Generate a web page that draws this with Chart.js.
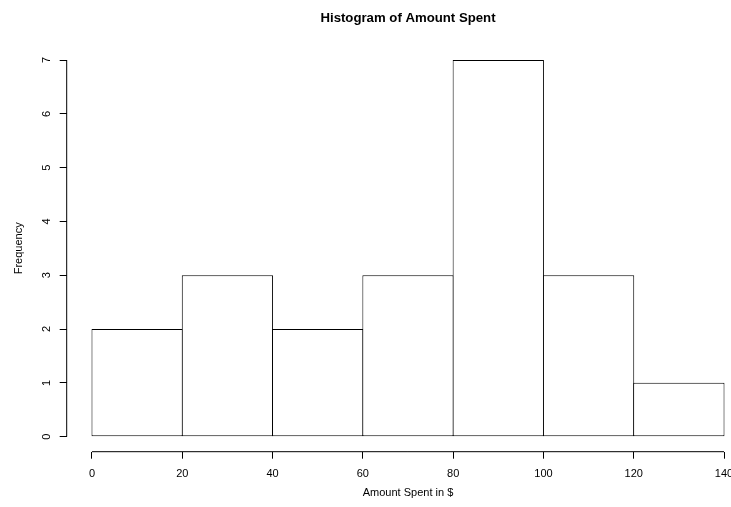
<!DOCTYPE html>
<html>
<head>
<meta charset="utf-8">
<script src="https://cdn.jsdelivr.net/npm/chart.js@4/dist/chart.umd.min.js"></script>
<style>
  html, body { margin: 0; padding: 0; background: #ffffff; overflow: hidden; }
  #wrap { width: 731px; height: 507px; overflow: hidden; }
  canvas { display: block; }
</style>
</head>
<body>
<div id="wrap"><canvas id="c" width="760" height="507"></canvas></div>
<script>
// Histogram data
const breaks = [0, 20, 40, 60, 80, 100, 120, 140];
const counts = [2, 3, 2, 3, 7, 3, 1];
const xTicks = [0, 20, 40, 60, 80, 100, 120, 140];
const yTicks = [0, 1, 2, 3, 4, 5, 6, 7];
const titleText = 'Histogram of Amount Spent';
const xTitle = 'Amount Spent in $';
const yTitle = 'Frequency';

const barData = counts.map((c, i) => ({ x: (breaks[i] + breaks[i + 1]) / 2, y: c }));

// R-style 4% axis extension
const xLo = breaks[0], xHi = breaks[breaks.length - 1];
const yHi = Math.max(...counts);
const xPad = (xHi - xLo) * 0.04, yPad = yHi * 0.04;

const FONT = '"Liberation Sans", Arial, Helvetica, sans-serif';

const rAxes = {
  id: 'rAxes',
  afterDraw(chart) {
    const ctx = chart.ctx;
    const xs = chart.scales.x, ys = chart.scales.y;
    const ca = chart.chartArea;
    ctx.save();
    ctx.strokeStyle = '#000';
    ctx.lineWidth = 1;
    ctx.beginPath();
    ctx.moveTo(xs.getPixelForValue(xTicks[0]), ca.bottom);
    ctx.lineTo(xs.getPixelForValue(xTicks[xTicks.length - 1]), ca.bottom);
    ctx.moveTo(ca.left, ys.getPixelForValue(yTicks[0]));
    ctx.lineTo(ca.left, ys.getPixelForValue(yTicks[yTicks.length - 1]));
    ctx.stroke();
    ctx.restore();
  }
};

new Chart(document.getElementById('c'), {
  type: 'bar',
  data: {
    datasets: [{
      data: barData,
      backgroundColor: '#ffffff',
      borderColor: '#000000',
      borderWidth: 1,
      borderSkipped: false,
      barPercentage: 1.011,
      categoryPercentage: 1
    }]
  },
  options: {
    responsive: false,
    animation: false,
    devicePixelRatio: 1,
    layout: { padding: { left: 0, right: 10.7, top: 0, bottom: 0 } },
    plugins: {
      legend: { display: false },
      tooltip: { enabled: false },
      title: {
        display: true,
        text: titleText,
        fullSize: false,
        color: '#000',
        font: { family: FONT, size: 13.2, weight: 'bold' },
        padding: { top: 10.1, bottom: 19.06 }
      }
    },
    scales: {
      x: {
        type: 'linear',
        offset: false,
        min: xLo - xPad,
        max: xHi + xPad,
        afterBuildTicks: s => { s.ticks = xTicks.map(v => ({ value: v })); },
        afterFit: s => { s.height = 55.3; },
        border: { display: false },
        grid: { offset: false, drawOnChartArea: false, drawTicks: true, tickLength: 7, color: '#000', tickWidth: 1 },
        ticks: { color: '#000', font: { family: FONT, size: 11 }, padding: 8.3, maxRotation: 0, autoSkip: false },
        title: { display: true, text: xTitle, color: '#000', font: { family: FONT, size: 11 }, padding: { top: 0, bottom: 7.4 } }
      },
      y: {
        type: 'linear',
        min: -yPad,
        max: yHi + yPad,
        afterBuildTicks: s => { s.ticks = yTicks.map(v => ({ value: v })); },
        afterFit: s => { s.width = 66.7; },
        border: { display: false },
        grid: { drawOnChartArea: false, drawTicks: true, tickLength: 7, color: '#000', tickWidth: 1 },
        ticks: { color: '#000', font: { family: FONT, size: 11 }, padding: 9.9, minRotation: 90, maxRotation: 90, crossAlign: 'center', autoSkip: false },
        title: { display: true, text: yTitle, color: '#000', font: { family: FONT, size: 11 }, padding: { top: 12.4, bottom: 0 } }
      }
    }
  },
  plugins: [rAxes]
});
</script>
</body>
</html>
